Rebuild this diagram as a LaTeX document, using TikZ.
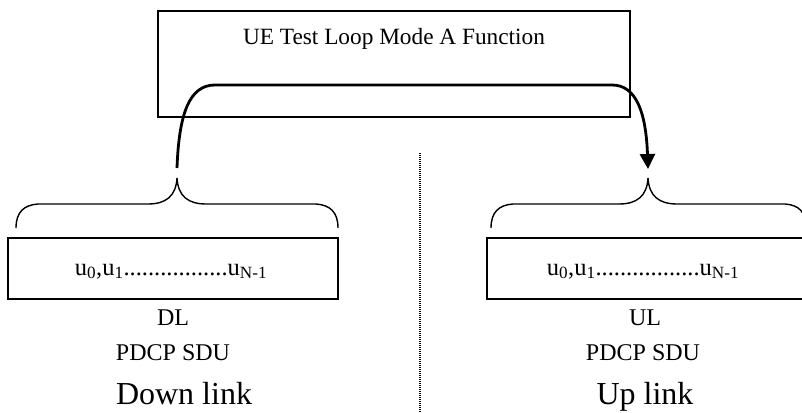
\documentclass[tikz,border=0pt]{standalone}
\usepackage{fontspec}
\setmainfont{Liberation Serif}
\usetikzlibrary{arrows.meta}
\begin{document}
\begin{tikzpicture}[x=1pt,y=-1pt,
  box/.style={draw,line width=1.4pt,rectangle,inner sep=0pt},
  lbl/.style={anchor=base,inner sep=0pt,font=\fontsize{24}{28}\selectfont},
  big/.style={anchor=base,inner sep=0pt,font=\fontsize{32}{36}\selectfont},
  bracel/.style={line width=1.4pt},
  loop/.style={line width=2.8pt,-{Triangle[length=15pt,width=15pt]}},
  sep/.style={line width=1.7pt,dash pattern=on 1.3pt off 0.7pt}]
\useasboundingbox (0,0) rectangle (802,412);
\begin{scope}
\clip (0,0) rectangle (802,412);
% boxes
\node[box,minimum width=472pt,minimum height=106pt] (ue) at (394,64) {};
\node[lbl,font=\fontsize{23.3}{28}\selectfont] (uet) at (394,45) {UE Test Loop Mode A Function};
\node[box,minimum width=330pt,minimum height=61pt] (dlbox) at (173,268.5) {};
\node[box,minimum width=340pt,minimum height=61pt] (ulbox) at (657,268.5) {};
\node[lbl,font=\fontsize{24.5}{28}\selectfont] (dlu) at (171,275) {u\textsubscript{0},u\textsubscript{1}.................u\textsubscript{N-1}};
\node[lbl,font=\fontsize{24.5}{28}\selectfont] (ulu) at (643,275) {u\textsubscript{0},u\textsubscript{1}.................u\textsubscript{N-1}};
% labels
\node[lbl] (dl) at (173,325) {DL};
\node[lbl] (dlp) at (173,360) {PDCP SDU};
\node[big] (dlk) at (184,404) {Down link};
\node[lbl] (ul) at (645,325) {UL};
\node[lbl] (ulp) at (643,360) {PDCP SDU};
\node[big] (ulk) at (645,404) {Up link};
% braces
\coordinate (lb) at (177,178);
\coordinate (rb) at (648,178);
\draw[bracel] (16,228) .. controls (16,212) and (24,205) .. (38,204) -- (148,204)
  .. controls (166,204) and (176,196) .. (lb)
  .. controls (178,196) and (188,204) .. (206,204) -- (316,204)
  .. controls (330,205) and (338,212) .. (338,228);
\draw[bracel] (491,228) .. controls (491,212) and (499,205) .. (513,204) -- (619,204)
  .. controls (637,204) and (647,196) .. (rb)
  .. controls (649,196) and (659,204) .. (677,204) -- (785,204)
  .. controls (799,205) and (806,212) .. (806,228);
% loop
\coordinate (ls) at (177,168);
\coordinate (le) at (648,169);
\draw[loop] (ls) .. controls (179,112) and (190,85) .. (215,85) -- (612,85)
  .. controls (636,85) and (646,112) .. (le);
% separator
\coordinate (s1) at (420,153);
\coordinate (s2) at (420,412);
\draw[sep] (s1) -- (s2);
\end{scope}
\end{tikzpicture}
\end{document}
